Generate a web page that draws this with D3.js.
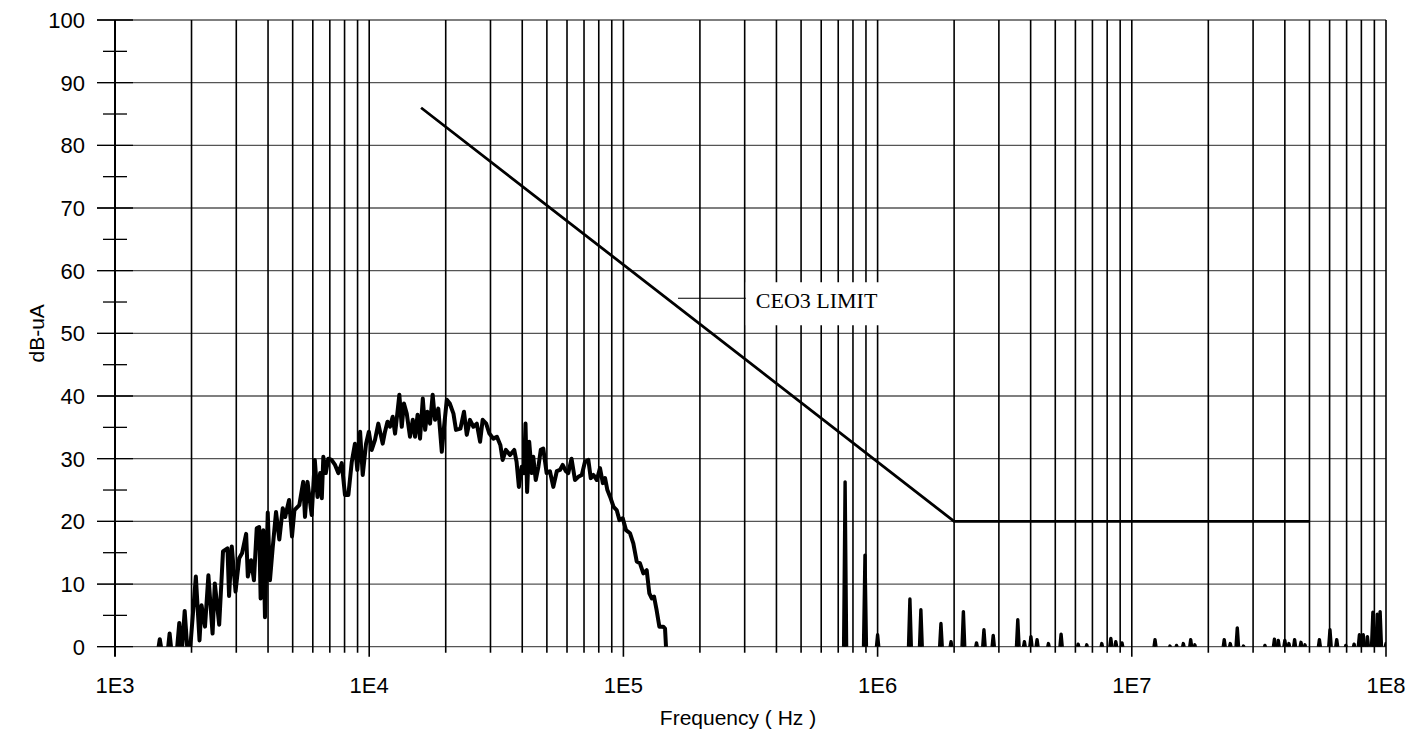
<!DOCTYPE html>
<html>
<head>
<meta charset="utf-8">
<title>CE03 conducted emissions</title>
<script src="https://cdn.jsdelivr.net/npm/d3@7/dist/d3.min.js"></script>
<style>
 body { margin: 0; background: #fff; }
 text { font-family: "Liberation Sans", Arial, sans-serif; fill: #000; }
</style>
</head>
<body>
<div class="chart"></div>
<script>
// measured trace, low band (Hz, dB-uA); values below 0 are clipped away
var traceFreq = [1460,1500,1545,1600,1640,1680,1740,1790,1830,1880,1930,1970,2080,2150,2190,2260,2330,2420,2470,2570,
  2660,2770,2810,2880,2980,3080,3160,3280,3330,3430,3520,3610,3690,3740,3830,3890,3990,4070,4170,4300,
  4430,4570,4670,4840,4970,5080,5310,5500,5590,5720,5940,6110,6260,6410,6510,6600,6750,6900,7110,7340,
  7560,7800,8030,8280,8540,8790,8980,9210,9430,9720,9970,10230,10540,10860,11300,11540,11800,12070,12370,12640,
  12900,13140,13430,13700,14050,14470,14840,15150,15500,15850,16250,16600,16930,17350,17770,18150,18700,19300,19700,20200,
  20750,21450,21950,22850,23600,24200,24900,25700,26500,27300,27950,28850,29700,30800,31800,32800,33500,34500,35800,37200,
  38000,38800,39800,40600,41200,41800,42600,43600,44200,45200,46300,47300,48400,49900,51400,53000,54700,56300,57700,59400,
  60700,62500,64500,66500,68600,70600,72800,74400,76200,78600,80900,83000,84700,86500,88700,91500,94100,96500,99400,102400,
  106200,109400,112800,116200,119800,123500,126500,129300,132000,135000,138500,143500,145800,148000];
var traceDb = [-2,1.2,-2,-2,2.1,-2,-2,3.8,-1,5.7,-1,-1,11.2,1.0,6.6,3.2,11.4,2.1,10.1,3.5,
  15.2,15.7,8.1,16.0,8.8,14.1,14.9,18.0,11.2,13.8,10.6,18.9,19.1,7.7,18.6,4.7,21.4,10.6,15.7,21.5,
  17.1,22.1,20.7,23.4,17.6,21.8,22.6,26.3,20.7,26.3,21.0,29.8,23.9,27.7,23.7,30.3,27.7,30.0,29.8,29.0,
  27.7,29.3,24.2,24.2,29.5,32.4,28.2,34.3,27.4,32.4,34.3,31.4,33.0,35.6,32.4,34.3,35.9,35.1,36.7,34.0,
  37.2,40.2,35.1,38.8,37.2,33.5,36.2,33.5,37.0,33.2,39.6,34.6,37.5,35.6,40.2,36.2,38.0,31.1,35.1,39.4,
  38.8,37.2,34.6,34.8,37.5,33.8,36.2,35.1,35.6,32.7,36.2,35.6,34.0,33.2,33.5,32.2,29.8,31.4,30.6,31.4,
  29.5,25.5,28.7,27.7,35.6,24.7,32.7,27.7,30.3,26.6,28.7,31.4,31.6,27.7,28.0,25.5,28.0,28.2,29.0,28.0,
  27.7,30.0,26.6,27.1,27.4,29.5,29.8,26.9,27.4,26.6,28.5,26.1,26.9,25.0,23.9,22.3,21.8,20.2,20.5,18.6,
  18.1,16.5,13.6,13.3,11.7,12.2,8.5,7.7,8.0,5.9,3.2,3.2,2.9,-2];

// isolated narrowband peaks above 150 kHz
var spikeFreq = [745000,892000,1000000,1340000,1480000,1775000,1945000,2175000,2450000,2620000,2850000,3560000,3780000,4010000,4240000,4700000,
  5270000,6150000,6650000,7620000,8270000,8650000,9150000,12340000,14130000,15000000,15950000,17050000,17700000,23100000,24400000,26000000,
  27500000,33400000,36400000,37700000,40000000,41500000,43700000,46300000,48000000,54700000,60200000,64000000,69500000,74900000,78600000,81400000,
  84500000,88800000,92400000,94800000,100000000];
var spikeDb = [26.3,14.6,1.9,7.6,5.9,3.7,0.8,5.6,0.6,2.7,1.8,4.3,0.8,1.6,1.1,0.5,
  2.0,0.4,0.3,0.5,1.3,0.8,0.6,1.1,0.1,0.2,0.5,1.1,0.3,1.1,0.5,3.0,
  0.1,0.2,1.2,1.0,1.0,0.5,1.1,0.7,0.3,1.1,2.7,1.1,0.2,0.4,1.9,1.9,
  1.6,5.5,5.2,5.6,0.5];

// CE03 limit
var limitFreq = [16000, 2000000, 50000000];
var limitDb = [86, 20, 20];

var xTickVals = [1e3, 1e4, 1e5, 1e6, 1e7, 1e8];
var xTickLabels = ["1E3", "1E4", "1E5", "1E6", "1E7", "1E8"];
var yTickVals = [0, 10, 20, 30, 40, 50, 60, 70, 80, 90, 100];
var yMinorVals = [5, 15, 25, 35, 45, 55, 65, 75, 85, 95];

var width = 1423, height = 730;
var pL = 115, pR = 1386, pT = 20, pB = 646.7;

var svg = d3.select(".chart").append("svg")
    .attr("width", width)
    .attr("height", height);

var x = d3.scaleLog().domain([1e3, 1e8]).range([pL, pR]);
var y = d3.scaleLinear().domain([0, 100]).range([pB, pT]);

svg.append("clipPath").attr("id", "plot-clip")
   .append("rect")
   .attr("x", pL).attr("y", pT)
   .attr("width", pR - pL).attr("height", pB - pT);

// horizontal grid (grey)
svg.selectAll(".hgrid").data(yTickVals).enter()
   .append("line")
   .attr("x1", pL - 18).attr("x2", pR)
   .attr("y1", d => y(d)).attr("y2", d => y(d))
   .style("stroke", "#555").style("stroke-width", 1.3);

// y tick marks on the axis
svg.selectAll(".ymaj").data(yTickVals).enter()
   .append("line")
   .attr("x1", pL - 18).attr("x2", pL + 18)
   .attr("y1", d => y(d)).attr("y2", d => y(d))
   .style("stroke", "#000").style("stroke-width", 1.3);
svg.selectAll(".ymin").data(yMinorVals).enter()
   .append("line")
   .attr("x1", pL - 12).attr("x2", pL + 12)
   .attr("y1", d => y(d)).attr("y2", d => y(d))
   .style("stroke", "#000").style("stroke-width", 1.3);

// vertical grid, every 1..9 of each decade
var isMajor = function(d){ return Math.abs(Math.log10(d) - Math.round(Math.log10(d))) < 1e-9; };
svg.selectAll(".vgrid").data(x.ticks()).enter()
   .append("line")
   .attr("x1", d => x(d)).attr("x2", d => x(d))
   .attr("y1", pT).attr("y2", d => pB + (isMajor(d) ? 10 : 6))
   .style("stroke", "#000").style("stroke-width", d => d == 1e3 ? 2 : 1.6);

// y labels
svg.selectAll(".ylab").data(yTickVals).enter()
   .append("text")
   .attr("x", 85).attr("y", d => y(d))
   .attr("dy", "0.36em")
   .attr("text-anchor", "end")
   .style("font-size", "22px")
   .text(d => d);

// x labels
svg.selectAll(".xlab").data(xTickVals).enter()
   .append("text")
   .attr("x", d => x(d)).attr("y", 693)
   .attr("text-anchor", "middle")
   .style("font-size", "22px")
   .text((d, i) => xTickLabels[i]);

// axis titles
svg.append("text")
   .attr("transform", "translate(44," + ((pT + pB) / 2) + ") rotate(-90)")
   .attr("text-anchor", "middle")
   .style("font-size", "21px")
   .text("dB-uA");
svg.append("text")
   .attr("x", 738).attr("y", 725)
   .attr("text-anchor", "middle")
   .style("font-size", "21px")
   .text("Frequency ( Hz )");

// limit label box
var labelDb = 55.6;
svg.append("rect")
   .attr("x", x(3.03e5)).attr("y", y(labelDb) - 16)
   .attr("width", 144).attr("height", 43)
   .attr("fill", "#fff");
svg.append("line")
   .attr("x1", x(1.64e5)).attr("x2", x(3.03e5))
   .attr("y1", y(labelDb)).attr("y2", y(labelDb))
   .style("stroke", "#000").style("stroke-width", 1);
svg.append("text")
   .attr("x", x(3.03e5) + 10).attr("y", y(labelDb) + 10)
   .style("font-family", "'Liberation Serif', 'Times New Roman', serif")
   .style("font-size", "22px")
   .text("CEO3 LIMIT");

var plot = svg.append("g").attr("clip-path", "url(#plot-clip)");

// limit line
var limitLine = d3.line().x(d => x(d[0])).y(d => y(d[1]));
plot.append("path")
   .datum(d3.zip(limitFreq, limitDb))
   .attr("d", limitLine)
   .attr("fill", "none")
   .style("stroke", "#000").style("stroke-width", 2.8);

// measured trace
plot.append("path")
   .datum(d3.zip(traceFreq, traceDb))
   .attr("d", limitLine)
   .attr("fill", "none")
   .style("stroke", "#000").style("stroke-width", 4)
   .style("stroke-linejoin", "round");

// narrowband spikes
plot.selectAll(".spike").data(d3.zip(spikeFreq, spikeDb)).enter()
   .append("path")
   .attr("d", d => "M" + (x(d[0]) - 1.5) + "," + (pB + 4) + "L" + x(d[0]) + "," + y(d[1]) + "L" + (x(d[0]) + 1.5) + "," + (pB + 4))
   .attr("fill", "#000")
   .style("stroke", "#000").style("stroke-width", 3.4)
   .style("stroke-linejoin", "round");
</script>
</body>
</html>
